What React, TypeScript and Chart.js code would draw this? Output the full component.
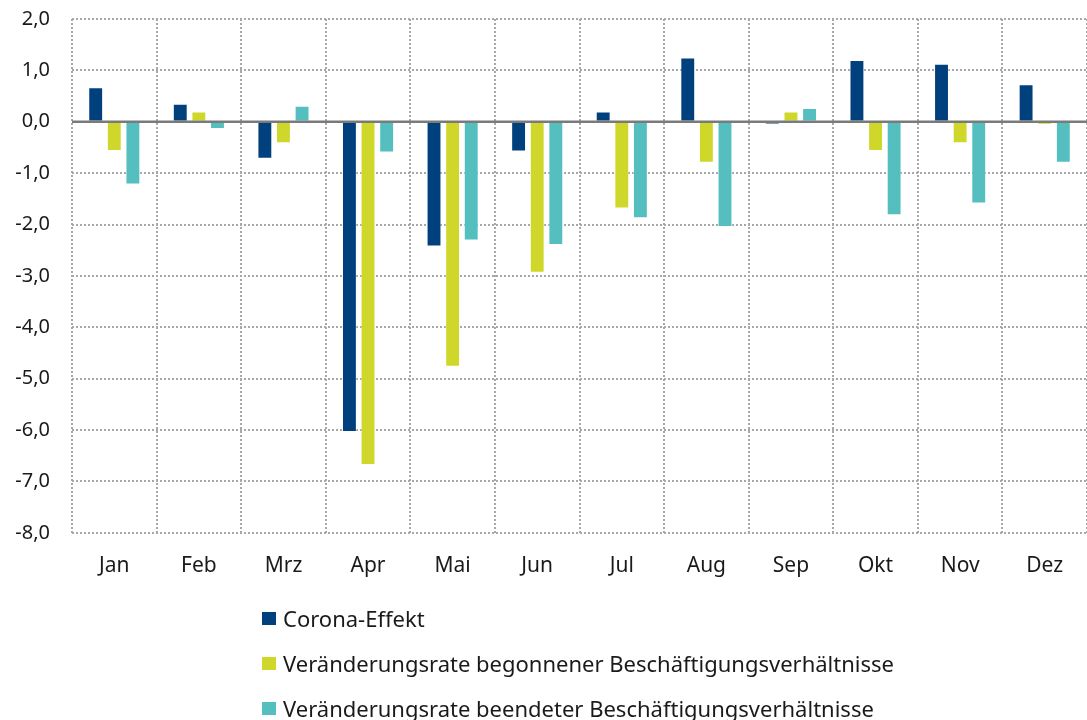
import React, { useEffect, useRef } from "react";
import { Chart, registerables } from "chart.js";

Chart.register(...registerables);

const categories = ["Jan", "Feb", "Mrz", "Apr", "Mai", "Jun", "Jul", "Aug", "Sep", "Okt", "Nov", "Dez"];
const coronaEffekt = [0.67, 0.35, -0.72, -6.04, -2.43, -0.58, 0.2, 1.25, -0.05, 1.2, 1.13, 0.73];
const begonnene = [-0.57, 0.2, -0.42, -6.68, -4.77, -2.94, -1.69, -0.8, 0.2, -0.57, -0.42, -0.06];
const beendete = [-1.22, -0.14, 0.31, -0.6, -2.31, -2.4, -1.88, -2.05, 0.27, -1.82, -1.59, -0.8];
const seriesNames = [
  "Corona-Effekt",
  "Veränderungsrate begonnener Beschäftigungsverhältnisse",
  "Veränderungsrate beendeter Beschäftigungsverhältnisse",
];
const seriesColors = ["#00407c", "#cfd82a", "#55bfc0"];
const yMin = -8;
const yMax = 2;

const FONT = "'Noto Sans', sans-serif";

const zeroLinePlugin = {
  id: "zeroLine",
  afterDatasetsDraw(chart: any) {
    const y = chart.scales.y.getPixelForValue(0);
    const { left, right } = chart.chartArea;
    const ctx = chart.ctx;
    ctx.save();
    ctx.strokeStyle = "#7a7a7a";
    ctx.lineWidth = 2.5;
    ctx.beginPath();
    ctx.moveTo(left, y);
    ctx.lineTo(right, y);
    ctx.stroke();
    ctx.restore();
  },
};

export default function App() {
  const ref = useRef<HTMLCanvasElement | null>(null);
  useEffect(() => {
    if (!ref.current) return;
    const data = [coronaEffekt, begonnene, beendete];
    const chart = new Chart(ref.current, {
      type: "bar",
      data: {
        labels: categories,
        datasets: data.map((d, i) => ({
          label: seriesNames[i],
          data: d,
          backgroundColor: seriesColors[i],
          borderColor: "rgba(255,255,255,0.35)",
          borderWidth: 1,
          categoryPercentage: 0.66,
          barPercentage: 0.8,
        })),
      },
      options: {
        animation: false,
        responsive: false,
        devicePixelRatio: 1,
        layout: { padding: { top: 0, bottom: 120, left: 0, right: 0 } },
        plugins: { legend: { display: false }, tooltip: { enabled: false } },
        scales: {
          x: {
            grid: { color: "#a8a8a8", lineWidth: 2, drawTicks: false, offset: true },
            border: { display: false, dash: [2, 2] },
            ticks: { color: "#1a1a1a", font: { family: FONT, size: 21 }, padding: 21 },
          },
          y: {
            min: yMin,
            max: yMax,
            afterFit(scale: any) {
              scale.width = 72;
              scale.paddingTop = 19;
              scale.paddingBottom = 12;
            },
            grid: { color: "#a8a8a8", lineWidth: 2, drawTicks: false },
            border: { display: false, dash: [2, 2] },
            ticks: {
              stepSize: 1,
              color: "#1a1a1a",
              padding: 22,
              font: { family: FONT, size: 20 },
              callback: (v: any) => Number(v).toFixed(1).replace(".", ","),
            },
          },
        },
      },
      plugins: [zeroLinePlugin],
    });
    return () => chart.destroy();
  }, []);

  return (
    <div style={{ position: "absolute", left: 0, top: 0, width: 1087, height: 720, background: "#fff" }}>
      <canvas ref={ref} width={1087} height={720} style={{ display: "block" }} />
      {seriesNames.map((n, i) => (
        <div
          key={n}
          style={{
            position: "absolute",
            left: 262,
            top: 618 + i * 45 - 16,
            height: 32,
            display: "flex",
            alignItems: "center",
            fontFamily: FONT,
            fontSize: 22,
            color: "#1a1a1a",
            whiteSpace: "nowrap",
          }}
        >
          <span style={{ display: "inline-block", width: 14, height: 13, background: seriesColors[i], marginRight: 7 }} />
          {n}
        </div>
      ))}
    </div>
  );
}
